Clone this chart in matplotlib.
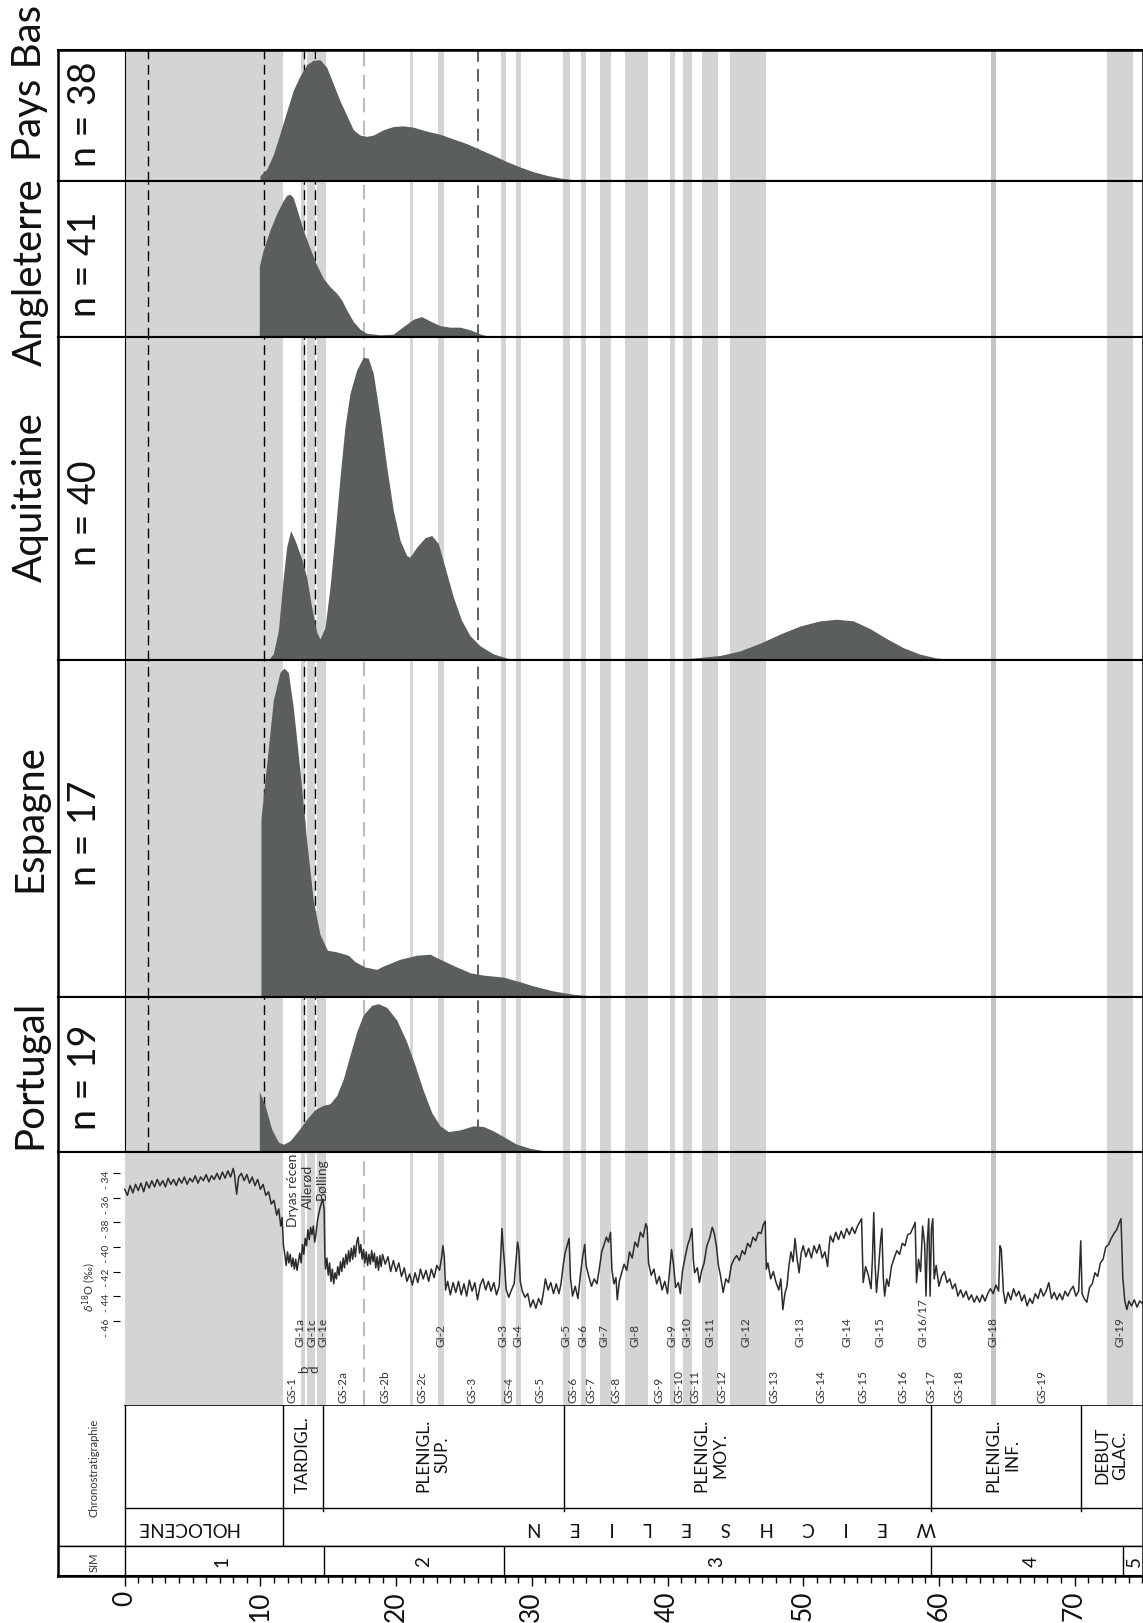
import matplotlib.pyplot as plt
from matplotlib.ticker import FuncFormatter

plt.rcParams['font.family'] = ['Lato', 'DejaVu Sans']

# --- Données -------------------------------------------------------------
regions = ['Pays Bas', 'Angleterre', 'Aquitaine', 'Espagne', 'Portugal']
n_dates = [38, 41, 40, 17, 19]

# densités relatives (âge en ka cal BP)
pb_age = [9.97, 10.46, 10.95, 11.44, 11.94, 12.42, 12.92, 13.41, 13.9, 14.39, 14.89, 15.37, 15.87,
          16.36, 16.85, 17.34, 17.83, 18.32, 19.06, 19.79, 20.53, 21.27, 22.25, 23.24, 24.22,
          25.2, 26.18, 27.16, 28.15, 29.13, 30.11, 31.1, 32.08, 33.06, 33.55, 34.0]
pb_dens = [0.04, 0.089, 0.20, 0.36, 0.53, 0.69, 0.80, 0.885, 0.92, 0.924, 0.865, 0.74, 0.61,
           0.50, 0.39, 0.35, 0.34, 0.35, 0.39, 0.415, 0.42, 0.41, 0.38, 0.356, 0.32,
           0.285, 0.24, 0.196, 0.148, 0.107, 0.071, 0.043, 0.023, 0.01, 0.005, 0.0]

an_age = [9.92, 10.21, 10.7, 11.2, 11.69, 11.94, 12.18, 12.42, 12.79, 13.16, 13.66, 14.15, 14.64,
          15.13, 15.62, 15.99, 16.36, 16.85, 17.34, 17.83, 18.81, 19.79, 20.53, 21.27, 21.88,
          22.5, 23.24, 23.97, 24.71, 25.45, 26.18, 26.67, 27.0]
an_dens = [0.453, 0.556, 0.684, 0.79, 0.876, 0.908, 0.915, 0.893, 0.79, 0.684, 0.566, 0.46, 0.374,
           0.32, 0.278, 0.235, 0.17, 0.096, 0.047, 0.021, 0.011, 0.015, 0.064, 0.111, 0.128,
           0.10, 0.07, 0.06, 0.06, 0.043, 0.017, 0.004, 0.0]

aq_age = [10.58, 10.95, 11.32, 11.69, 11.94, 12.23, 12.55, 13.04, 13.41, 13.78, 14.15, 14.39, 14.76,
          15.13, 15.5, 15.87, 16.23, 16.6, 17.1, 17.58, 17.95, 18.32, 18.81, 19.31, 19.79,
          20.29, 20.78, 21.02, 21.52, 22.13, 22.62, 23.11, 23.6, 24.22, 24.83, 25.45, 26.18,
          27.16, 28.15, 28.89, 30.0, 38.95, 41.41, 43.87, 45.34, 46.82, 48.29, 49.76, 51.24,
          52.47, 53.69, 54.92, 56.15, 57.38, 58.61, 59.84, 61.06, 62.3, 63.5]
aq_dens = [0.0, 0.019, 0.09, 0.256, 0.35, 0.40, 0.37, 0.313, 0.256, 0.163, 0.086, 0.065, 0.10,
           0.225, 0.39, 0.566, 0.72, 0.824, 0.897, 0.936, 0.933, 0.886, 0.752, 0.597, 0.463,
           0.37, 0.323, 0.318, 0.349, 0.378, 0.385, 0.36, 0.287, 0.194, 0.122, 0.075, 0.044,
           0.019, 0.006, 0.001, 0.0, 0.001, 0.004, 0.014, 0.028, 0.052, 0.08, 0.105, 0.121,
           0.126, 0.121, 0.097, 0.066, 0.038, 0.018, 0.006, 0.002, 0.001, 0.0]

es_age = [10.04, 10.46, 10.95, 11.44, 11.74, 12.06, 12.42, 12.92, 13.41, 13.9, 14.39, 14.93, 15.62,
          16.48, 16.97, 17.71, 18.57, 19.06, 20.29, 21.52, 22.5, 23.24, 24.47, 25.45, 26.43,
          27.9, 28.89, 30.11, 31.58, 33.06, 34.53, 35.2]
es_dens = [0.528, 0.69, 0.88, 0.963, 0.976, 0.963, 0.86, 0.67, 0.463, 0.285, 0.186, 0.139, 0.134,
           0.124, 0.105, 0.089, 0.082, 0.092, 0.112, 0.124, 0.127, 0.112, 0.089, 0.072, 0.065,
           0.059, 0.048, 0.033, 0.018, 0.008, 0.003, 0.0]

po_age = [9.92, 10.34, 10.83, 11.32, 11.69, 12.18, 12.79, 13.41, 14.02, 14.64, 15.13, 15.62, 16.11,
          16.6, 17.1, 17.58, 18.2, 18.69, 19.31, 20.04, 20.78, 21.39, 22.0, 22.62, 23.24,
          23.85, 24.71, 25.69, 26.43, 27.16, 27.9, 28.89, 29.87, 30.6, 31.5]
po_dens = [0.39, 0.30, 0.146, 0.063, 0.048, 0.07, 0.135, 0.21, 0.272, 0.30, 0.31, 0.363, 0.47,
           0.624, 0.776, 0.885, 0.946, 0.957, 0.933, 0.852, 0.71, 0.56, 0.396, 0.254, 0.167,
           0.13, 0.141, 0.167, 0.163, 0.135, 0.098, 0.048, 0.022, 0.011, 0.0]

densities = [(pb_age, pb_dens), (an_age, an_dens), (aq_age, aq_dens),
             (es_age, es_dens), (po_age, po_dens)]

# courbe NGRIP d18O (‰)
d18o_age = [0.0, 0.2, 0.4, 0.6, 0.8, 1.0, 1.2, 1.4, 1.6, 1.8, 2.0, 2.2, 2.4, 2.6, 2.8, 3.0, 3.2, 3.4,
            3.6, 3.8, 4.0, 4.2, 4.4, 4.6, 4.8, 5.0, 5.2, 5.4, 5.6, 5.8, 6.0, 6.2, 6.4, 6.6, 6.8,
            7.0, 7.2, 7.4, 7.6, 7.8, 8.0, 8.1, 8.25, 8.4, 8.6, 8.8, 9.0, 9.2, 9.4, 9.6, 9.8, 10.0,
            10.2, 10.4, 10.6, 10.8, 11.0, 11.2, 11.35, 11.5, 11.6, 11.7,
            11.8, 11.9, 12.0, 12.1, 12.2, 12.3, 12.4, 12.5, 12.6, 12.7, 12.8,
            12.9, 13.0, 13.1, 13.2, 13.3, 13.4, 13.5, 13.6, 13.7, 13.8, 13.9, 14.0, 14.1,
            14.2, 14.3, 14.4, 14.5, 14.6, 14.7, 14.75,
            14.8, 14.9, 15.0, 15.1, 15.2, 15.3, 15.4, 15.5, 15.6, 15.7, 15.8, 15.9, 16.0, 16.1,
            16.2, 16.3, 16.4, 16.5, 16.6, 16.7, 16.8, 16.9, 17.0, 17.1, 17.2, 17.3, 17.4, 17.5,
            17.6, 17.7, 17.8, 17.9, 18.0, 18.1, 18.2, 18.3, 18.4, 18.5, 18.6, 18.7, 18.8, 18.9,
            19.0, 19.2, 19.4, 19.6, 19.8, 20.0, 20.2, 20.4, 20.6, 20.8, 21.0, 21.2, 21.4, 21.6,
            21.8, 22.0, 22.2, 22.4, 22.6, 22.8, 23.0, 23.2, 23.35, 23.45, 23.55, 23.65, 23.8,
            24.0, 24.2, 24.4, 24.6, 24.8, 25.0, 25.2, 25.4, 25.6, 25.8, 26.0, 26.2, 26.4, 26.6,
            26.8, 27.0, 27.2, 27.4, 27.6, 27.7, 27.8, 27.9, 28.0, 28.1, 28.3, 28.5, 28.7, 28.85,
            28.95, 29.05, 29.15, 29.3, 29.5, 29.7, 29.9, 30.1, 30.3, 30.5, 30.7, 30.9, 31.0,
            31.2, 31.4, 31.6, 31.8, 32.0, 32.15, 32.3, 32.45, 32.6, 32.75, 32.85, 33.0, 33.2,
            33.4, 33.6, 33.75, 33.9, 34.0, 34.2, 34.4, 34.6, 34.8, 35.0, 35.15, 35.3, 35.5,
            35.65, 35.8, 35.9, 36.05, 36.2, 36.3, 36.45, 36.6, 36.8, 37.0, 37.2, 37.4, 37.6,
            37.8, 38.0, 38.2, 38.4, 38.5, 38.6, 38.8, 39.0, 39.2, 39.4, 39.6, 39.8, 40.0, 40.15,
            40.3, 40.45, 40.6, 40.8, 40.95, 41.1, 41.3, 41.5, 41.65, 41.8, 41.9, 42.0, 42.2,
            42.35, 42.5, 42.7, 42.9, 43.1, 43.3, 43.45, 43.6, 43.75, 43.9, 44.1, 44.3, 44.5,
            44.7, 44.9, 45.1, 45.3, 45.5, 45.7, 45.9, 46.1, 46.3, 46.5, 46.7, 46.9, 47.05, 47.2,
            47.28, 47.4, 47.6, 47.8, 48.0, 48.2, 48.35, 48.5, 48.65, 48.8, 48.95, 49.1, 49.25,
            49.4, 49.55, 49.7, 49.85, 50.0, 50.2, 50.4, 50.6, 50.8, 51.0, 51.2, 51.4, 51.6, 51.8,
            51.9, 52.0, 52.2, 52.4, 52.6, 52.8, 53.0, 53.2, 53.4, 53.6, 53.8, 54.0, 54.15, 54.3,
            54.42, 54.6, 54.8, 55.0, 55.1, 55.2, 55.3, 55.4, 55.55, 55.7, 55.8, 55.9, 56.0,
            56.15, 56.3, 56.5, 56.7, 56.9, 57.1, 57.3, 57.5, 57.7, 57.9, 58.1, 58.25, 58.35,
            58.5, 58.65, 58.8, 58.95, 59.05, 59.15, 59.25, 59.35, 59.45, 59.55, 59.65, 59.8,
            60.0, 60.2, 60.4, 60.6, 60.8, 61.0, 61.2, 61.4, 61.6, 61.8, 62.0, 62.2, 62.4, 62.6,
            62.8, 63.0, 63.2, 63.4, 63.6, 63.8, 64.0, 64.2, 64.4, 64.5, 64.6, 64.75, 64.9, 65.1,
            65.3, 65.5, 65.7, 65.9, 66.1, 66.3, 66.5, 66.7, 66.9, 67.1, 67.3, 67.5, 67.7, 67.9,
            68.1, 68.3, 68.5, 68.7, 68.9, 69.1, 69.3, 69.5, 69.7, 69.9, 70.1, 70.3, 70.45,
            70.55, 70.7, 70.9, 71.1, 71.3, 71.5, 71.7, 71.9, 72.1, 72.3, 72.5, 72.7, 72.9, 73.1,
            73.3, 73.42, 73.55, 73.7, 73.85, 74.0, 74.2, 74.4, 74.6, 74.8, 75.0]
d18o_val = [-35.3, -35.8, -35.0, -35.6, -34.9, -35.4, -34.8, -35.5, -34.7, -35.2, -34.6, -35.1,
            -34.5, -35.0, -34.6, -35.1, -34.4, -34.9, -34.5, -35.0, -34.4, -34.8, -34.3, -34.9,
            -34.4, -34.7, -34.2, -34.8, -34.3, -34.6, -34.1, -34.7, -34.2, -34.5, -34.0, -34.5,
            -33.9, -34.4, -33.8, -34.3, -33.6, -34.2, -35.7, -34.3, -34.0, -34.6, -34.1, -34.8,
            -34.3, -35.0, -34.5, -35.3, -34.9, -35.8, -35.5, -36.5, -36.2, -37.4, -36.9, -38.3,
            -37.6, -39.9,
            -40.6, -41.5, -40.4, -41.3, -40.6, -41.6, -40.9, -41.8, -41.0, -41.9, -41.2,
            -40.5, -41.3, -39.8, -40.6, -39.3, -39.9, -38.6, -39.4, -38.4, -39.0, -38.3, -39.6,
            -38.9, -37.9, -37.3, -36.8, -36.4, -36.1, -37.0, -40.6,
            -41.8, -40.9, -42.3, -41.3, -42.8, -41.8, -43.0, -42.1, -42.6, -41.6, -42.3, -41.2,
            -42.0, -40.9, -41.7, -40.6, -41.4, -40.3, -41.2, -40.1, -41.0, -39.9, -40.8, -39.6,
            -39.2, -40.5, -39.8, -41.0, -40.2, -41.3, -40.4, -41.5, -40.6, -41.4, -40.3, -41.2,
            -40.5, -41.7, -40.8, -41.9, -40.7, -41.6, -40.6, -41.4, -40.8, -42.0, -41.1, -42.0,
            -41.3, -42.4, -41.7, -42.8, -42.2, -43.1, -42.1, -42.9, -41.8, -42.6, -41.9, -42.8,
            -41.8, -42.5, -41.5, -41.9, -40.9, -39.9, -40.8, -43.5, -42.8, -43.9, -42.9, -43.7,
            -42.8, -43.9, -43.0, -44.0, -42.7, -43.6, -42.9, -44.3, -43.1, -42.6, -43.5, -42.8,
            -43.6, -42.9, -43.9, -43.2, -41.0, -38.5, -40.2, -41.5, -43.4, -44.1, -43.5, -43.0,
            -41.0, -39.6, -40.3, -42.8, -43.6, -44.1, -43.8, -44.9, -44.3, -45.0, -44.2, -44.7,
            -43.4, -42.6, -43.5, -42.9, -43.8, -43.0, -43.8, -43.0, -41.6, -40.5, -39.9, -39.3,
            -42.5, -44.0, -43.2, -44.2, -42.1, -40.8, -39.8, -41.5, -42.4, -43.2, -42.6, -43.0,
            -41.6, -40.4, -39.9, -39.2, -39.6, -38.8, -41.8, -43.0, -42.5, -44.3, -42.8, -42.2,
            -41.4, -41.9, -40.4, -40.9, -39.6, -40.0, -38.8, -39.2, -38.1, -38.4, -41.3, -42.3,
            -41.8, -43.0, -42.4, -43.5, -42.8, -43.8, -42.0, -40.2, -41.5, -43.3, -42.9, -43.8,
            -42.0, -40.8, -39.8, -39.3, -38.5, -41.0, -42.1, -41.7, -42.9, -42.0, -41.3, -39.9,
            -39.3, -38.4, -38.9, -39.9, -41.5, -42.3, -43.7, -42.6, -42.9, -41.5, -41.0, -40.7,
            -41.1, -40.3, -40.6, -39.7, -40.0, -39.2, -39.5, -38.8, -38.9, -38.2, -37.9, -41.8,
            -41.3, -42.6, -42.0, -42.9, -43.5, -42.6, -45.1, -43.8, -43.2, -41.5, -40.4, -41.2,
            -39.3, -41.0, -42.1, -40.5, -39.9, -40.8, -40.1, -40.9, -39.9, -40.5, -39.8, -40.9,
            -40.4, -41.6, -40.0, -39.1, -39.6, -38.8, -39.4, -38.7, -39.3, -38.5, -39.0, -38.4,
            -38.9, -38.3, -38.0, -37.7, -42.9, -41.6, -42.3, -43.4, -41.0, -37.2, -41.5, -43.7,
            -41.8, -39.5, -38.5, -42.5, -44.0, -42.6, -43.2, -41.6, -40.9, -40.3, -40.6, -39.7,
            -39.9, -39.0, -38.9, -38.4, -38.0, -42.9, -41.0, -42.0, -38.3, -39.8, -44.0, -39.5,
            -37.7, -44.0, -38.5, -37.7, -42.6, -41.5, -43.2, -42.4, -42.0, -42.9, -42.6, -43.4,
            -43.0, -44.0, -43.5, -44.1, -43.6, -44.3, -43.9, -44.5, -44.0, -44.5, -43.9, -44.4,
            -43.8, -43.4, -43.8, -43.1, -43.6, -39.9, -40.2, -43.6, -44.6, -43.7, -44.3, -43.4,
            -44.0, -43.6, -44.4, -43.9, -44.8, -44.2, -44.6, -43.8, -44.2, -43.4, -44.0, -43.6,
            -42.9, -44.2, -43.7, -44.3, -43.8, -44.3, -43.6, -44.0, -43.5, -43.2, -44.0, -43.6,
            -39.5, -43.8, -44.2, -44.5, -43.3, -43.0, -42.1, -42.4, -41.3, -41.0, -40.0, -39.8,
            -39.3, -38.9, -38.6, -38.0, -37.7, -42.5, -44.4, -45.1, -44.4, -44.8, -44.3, -44.9,
            -44.4, -44.6]

holocene_end = 11.7
gi_bands = [(13.0, 13.25), (13.4, 14.05), (14.15, 14.8), (23.07, 23.55), (27.73, 28.07),
            (28.81, 29.18), (32.28, 32.79), (33.63, 34.02), (35.0, 35.81), (36.87, 38.54),
            (40.21, 40.53), (41.12, 41.83), (42.57, 43.72), (44.6, 47.26), (72.4, 74.32)]
gi18_band = (63.84, 64.19)
gs2c_line = 21.07
black_dashes = [1.75, 10.3, 13.2, 14.0]
dark_dash = 26.0
gray_dash = 17.6

gi_names = ['GI-1a', 'GI-1c', 'GI-1e', 'GI-2', 'GI-3', 'GI-4', 'GI-5', 'GI-6', 'GI-7', 'GI-8',
            'GI-9', 'GI-10', 'GI-11', 'GI-12', 'GI-13', 'GI-14', 'GI-15', 'GI-16/17', 'GI-18',
            'GI-19']
gi_pos = [12.95, 13.78, 14.6, 23.3, 27.85, 28.96, 32.5, 33.8, 35.3, 37.6, 40.35, 41.46, 43.1,
          45.8, 49.76, 53.2, 55.66, 58.8, 64.0, 73.35]
gs_names = ['GS-1', 'GS-2a', 'GS-2b', 'GS-2c', 'GS-3', 'GS-4', 'GS-5', 'GS-6', 'GS-7', 'GS-8',
            'GS-9', 'GS-10', 'GS-11', 'GS-12', 'GS-13', 'GS-14', 'GS-15', 'GS-16', 'GS-17',
            'GS-18', 'GS-19']
gs_pos = [12.3, 16.1, 19.2, 21.9, 25.6, 28.35, 30.6, 33.06, 34.34, 36.2, 39.4, 40.85, 42.05,
          44.04, 47.87, 51.3, 54.4, 57.33, 59.4, 61.5, 67.6]

chrono_names = ['TARDIGL.', 'PLENIGL.\nSUP.', 'PLENIGL.\nMOY.', 'PLENIGL.\nINF.', 'DEBUT\nGLAC.']
chrono_pos = [13.1, 22.7, 43.2, 64.7, 72.7]
chrono_bounds = [14.65, 32.37, 59.4, 70.47]
sim_names = ['1', '2', '3', '4', '5']
sim_pos = [7.15, 22.0, 43.6, 66.8, 74.4]
sim_bounds = [14.66, 27.93, 59.44, 73.59]

# --- Mise en page (pixels) -----------------------------------------------
W, H = 1143, 1624
LEFT = 58
XLIM = (-4.915, 75.04)
X0_FRAC = -XLIM[0] / (XLIM[1] - XLIM[0])
panel_rows = [(50.7, 182), (182, 337.5), (337.5, 661), (661, 998), (998, 1152.7)]
title_y = [83, 272, 497, 818, 1074]
n_y = [114, 264, 513, 833, 1077]

GRAY = '#d4d4d3'
GRAY18 = '#c2c6c6'
DARK = '#5a5e5f'
TXT = '#333333'

fig = plt.figure(figsize=(W / 100, H / 100), dpi=100, facecolor='white')


def add_row(top, bottom):
    ax = fig.add_axes([LEFT / W, 1 - bottom / H, (W - LEFT) / W, (bottom - top) / H])
    ax.set_xlim(*XLIM)
    ax.set_xticks([])
    ax.set_yticks([])
    for s in ax.spines.values():
        s.set_linewidth(1.5)
    ax.spines['left'].set_visible(False)
    ax.spines['right'].set_visible(False)
    return ax


def shade(ax):
    ax.axvspan(0, holocene_end, color=GRAY, lw=0, zorder=0)
    for a, b in gi_bands:
        ax.axvspan(a, b, color=GRAY, lw=0, zorder=0)
    ax.axvspan(*gi18_band, color=GRAY18, lw=0, zorder=0)
    ax.axvline(gs2c_line, color=GRAY, lw=2, zorder=0.5)
    ax.axvline(gray_dash, color='#bdbdbd', lw=1.5, dashes=(7, 4), zorder=0.6)


# panneaux de densité
for i, (top, bottom) in enumerate(panel_rows):
    ax = add_row(top, bottom)
    ax.set_ylim(0, 1)
    shade(ax)
    ax.axvline(0, color='k', lw=0.8)
    for x in black_dashes:
        ax.axvline(x, color='k', lw=1, dashes=(7, 4), zorder=1)
    ax.axvline(dark_dash, color='#555555', lw=1.3, dashes=(7, 4), zorder=1)
    age, dens = densities[i]
    ax.fill_between(age, dens, color=DARK, lw=0, zorder=2)
    fig.text(30 / W, 1 - title_y[i] / H, regions[i], rotation=90, ha='center', va='center',
             fontsize=29, color='#111111')
    fig.text(85 / W, 1 - n_y[i] / H, f'n = {n_dates[i]}', rotation=90, ha='center',
             va='center', fontsize=27, color='#111111')

# panneau d18O
ax = add_row(1152.7, 1406)
ax.spines['bottom'].set_visible(False)
ax.set_ylim(-52.87, -32.24)
shade(ax)
ax.plot(d18o_age, d18o_val, color='#2b2b2b', lw=1.1, zorder=3)
ax.spines['left'].set_position(('data', -0.35))
ax.set_yticks(range(-46, -33, 2))
ax.yaxis.set_major_formatter(FuncFormatter(lambda v, p: f'- {abs(int(v))}'))
ax.tick_params(axis='y', left=True, direction='out', length=5, width=0.8, labelsize=7.5,
               labelrotation=90, pad=1.5, labelcolor=TXT)
fig.text(89 / W, 1 - 1287 / H, r'$\delta^{18}$O (‰)', rotation=90, ha='center', va='center',
         fontsize=8, color=TXT)
tr = ax.get_xaxis_transform()
for name, x in zip(gi_names, gi_pos):
    ax.text(x, 0.233, name, rotation=90, ha='center', va='bottom', transform=tr,
            fontsize=8.5, color=TXT, zorder=0.2)
for name, x in zip(gs_names, gs_pos):
    ax.text(x, 0.012, name, rotation=90, ha='center', va='bottom', transform=tr,
            fontsize=8.5, color=TXT)
for name, x in zip(['b', 'd'], [13.2, 14.0]):
    ax.text(x, 0.13, name, rotation=90, ha='center', va='bottom', transform=tr,
            fontsize=9.5, color=TXT)
for name, x, y in zip(['Dryas récen', 'Allerød', 'Bølling'], [12.4, 13.5, 14.5],
                      [0.995, 0.951, 0.979]):
    ax.text(x, y, name, rotation=90, ha='center', va='top', transform=tr, fontsize=10,
            color=TXT, zorder=4)

# chronostratigraphie
ax = add_row(1406, 1547)
ax.spines['top'].set_visible(False)
ax.spines['bottom'].set_linewidth(1)
ax.set_ylim(0, 1)
ax.axhline(1, xmin=X0_FRAC, color='k', lw=1.2)
ax.axhline(0.2695, xmin=X0_FRAC, color='k', lw=1)
ax.axvline(0, color='k', lw=1)
ax.axvline(holocene_end, color='k', lw=1)
for x in chrono_bounds:
    ax.axvline(x, ymin=0.245, color='k', lw=1)
for name, x in zip(chrono_names, chrono_pos):
    ax.text(x, 0.652, name, rotation=90, ha='center', va='center', multialignment='center',
            fontsize=12.5, color='#111111')
ax.text(4.55, 0.135, 'HOLOCENE', rotation=180, ha='center', va='center', fontsize=13.5,
        color='#111111')
ax.text(44.7, 0.135, '      '.join('WEICHSELIEN'), rotation=180, ha='center', va='center',
        fontsize=13.5, color='#111111')
fig.text(94 / W, 1 - 1468 / H, 'Chronostratigraphie', rotation=90, ha='center', va='center',
         fontsize=8, color=TXT)

# SIM + axe des âges
ax = add_row(1547, 1577)
ax.spines['top'].set_linewidth(1)
ax.set_ylim(0, 1)
ax.axvline(0, color='k', lw=1)
for x in sim_bounds:
    ax.axvline(x, color='k', lw=1)
for name, x in zip(sim_names, sim_pos):
    ax.text(x, 0.5, name, rotation=90, ha='center', va='center', fontsize=13.5,
            color='#111111')
fig.text(94 / W, 1 - 1562 / H, 'SIM', rotation=90, ha='center', va='center', fontsize=8,
         color=TXT)
ax.set_xticks(range(0, 71, 10))
ax.set_xticks(range(0, 76), minor=True)
ax.tick_params(axis='x', which='major', direction='out', length=7, width=1, labelsize=19,
               labelrotation=90, pad=3, labelcolor='#111111')
ax.tick_params(axis='x', which='minor', direction='out', length=5, width=1)

# cadre extérieur
frame = fig.add_axes([LEFT / W, 1 - 1577 / H, (W - LEFT) / W, (1577 - 50.7) / H])
frame.set_facecolor('none')
frame.set_xticks([])
frame.set_yticks([])
for s in frame.spines.values():
    s.set_linewidth(1.8)

fig.savefig('out.png', dpi=100)
